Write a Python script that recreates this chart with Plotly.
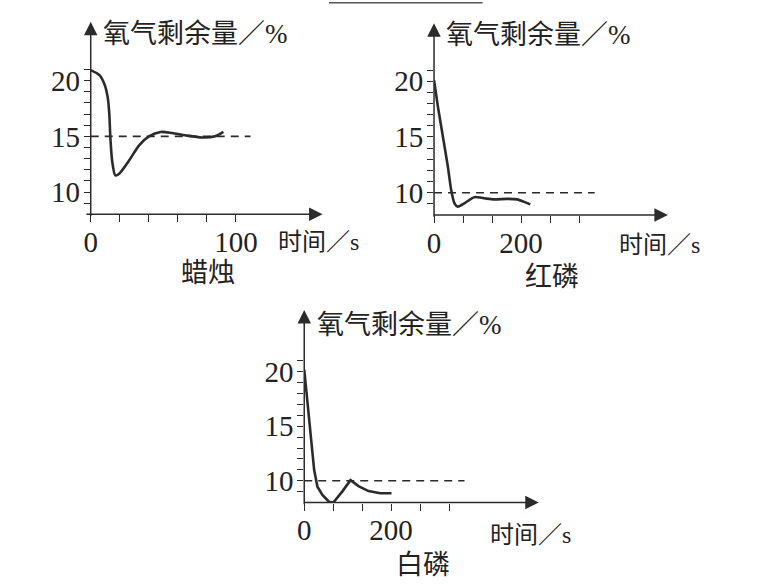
import plotly.graph_objects as go

# ~~~ data ~~~
candle_t = [0, 6, 9.4, 11.7, 12.8, 13.5, 14.7, 16.9, 19.6, 26.5, 33.3, 40.1, 48.1, 56, 65, 76.5, 85.6, 91.3]
candle_o2 = [20.95, 20.5, 19.7, 18.5, 17.0, 14.95, 12.85, 11.5, 11.65, 12.85, 14.2, 15.0, 15.4, 15.3, 15.1, 14.9, 15.0, 15.4]

red_t = [0, 9, 20.5, 31.9, 39.4, 47, 54.6, 69.8, 92.5, 115, 138, 168, 191, 206, 221]
red_o2 = [20.1, 17.7, 15.0, 12.3, 10.25, 9.05, 8.75, 9.05, 9.6, 9.5, 9.4, 9.45, 9.4, 9.2, 8.95]

white_t = [0, 5.3, 11.4, 17.5, 22.8, 30.4, 41.8, 57, 67, 87.4, 106.5, 125, 148, 175, 201]
white_o2 = [20.2, 18.0, 15.6, 13.1, 11.0, 9.45, 8.7, 8.07, 8.0, 9.0, 10.05, 9.5, 9.05, 8.85, 8.85]

names = ["蜡烛", "红磷", "白磷"]
ref_levels = [15, 10, 10]
ref_ends = [110, 369, 369]

x_ticks = [[0, 20, 40, 60, 80, 100], [0, 200 / 3, 400 / 3, 200, 800 / 3, 1000 / 3], [0, 200 / 3, 400 / 3, 200, 800 / 3, 1000 / 3]]
x_text = [["0", "", "", "", "", "100"], ["0", "", "", "200", "", ""], ["0", "", "", "200", "", ""]]
y_ticks = list(range(9, 22))
y_text = ["10" if v == 10 else "15" if v == 15 else "20" if v == 20 else "" for v in y_ticks]

W, H = 760, 588
INK = "#2b2b2b"
SERIF = "Liberation Serif, Noto Sans CJK SC, serif"


def fx(px):
    return px / W


def fy(py):
    return 1 - py / H


# pixel frames of each panel: y-axis x, arrow tip x, x-axis y, arrow tip y, x range end, y range end
panels = [
    dict(left=84.5, right=318.5, bottom=214.3, top=21.7, xmax=159.6, ymax=25.3),
    dict(left=431, right=667, bottom=215, top=23.3, xmax=537, ymax=25.2),
    dict(left=300, right=536.7, bottom=502.5, top=310, xmax=540, ymax=25.66),
]
curves = [(candle_t, candle_o2, "spline"), (red_t, red_o2, "spline"), (white_t, white_o2, "linear")]

fig = go.Figure()
annotations = []

for i, p in enumerate(panels):
    n = "" if i == 0 else str(i + 1)
    xa, ya = "x" + n, "y" + n
    t, o2, shape = curves[i]

    # dashed reference level
    fig.add_trace(go.Scatter(
        x=[0, ref_ends[i]], y=[ref_levels[i], ref_levels[i]],
        xaxis=xa, yaxis=ya, mode="lines",
        line=dict(color=INK, width=1.6, dash="8px,6px"),
        showlegend=False, hoverinfo="skip"))
    # the measured curve
    fig.add_trace(go.Scatter(
        x=t, y=o2, xaxis=xa, yaxis=ya, mode="lines",
        line=dict(color=INK, width=2.6, shape=shape, smoothing=0.7),
        showlegend=False, hoverinfo="skip"))

    common = dict(showgrid=False, zeroline=False, showline=False, ticks="outside",
                  tickcolor=INK, tickwidth=1.4, tickfont=dict(family=SERIF, size=29, color="#222"))
    fig.update_layout(**{
        "xaxis" + n: dict(domain=[fx(p["left"]), fx(p["right"])], range=[0, p["xmax"]],
                          anchor=ya, tickvals=x_ticks[i], ticktext=x_text[i], ticklen=7,
                          ticklabelstandoff=-5, **common),
        "yaxis" + n: dict(domain=[fy(p["bottom"]), fy(p["top"])], range=[8, p["ymax"]],
                          anchor=xa, tickvals=y_ticks, ticktext=y_text, ticklen=6,
                          ticklabelstandoff=-2, **common),
    })

    # axes with arrow heads
    annotations.append(dict(x=p["xmax"], y=8, xref=xa, yref=ya, ax=-4, ay=8, axref=xa, ayref=ya,
                            text="", showarrow=True, arrowhead=2, arrowsize=1.8, arrowwidth=1.5,
                            arrowcolor=INK, standoff=0))
    annotations.append(dict(x=0, y=p["ymax"], xref=xa, yref=ya, ax=0, ay=7.7, axref=xa, ayref=ya,
                            text="", showarrow=True, arrowhead=2, arrowsize=1.8, arrowwidth=1.5,
                            arrowcolor=INK, standoff=0))

# text placed by pixel position
labels = [
    ("氧气剩余量／%", 95, 34, "left", 27),
    ("时间／s", 271, 242, "left", 24),
    ("蜡烛", 203, 273, "center", 27),
    ("氧气剩余量／%", 441, 35, "left", 27),
    ("时间／s", 616, 245, "left", 24),
    ("红磷", 550, 277, "center", 27),
    ("氧气剩余量／%", 311, 325, "left", 27),
    ("时间／s", 485, 535, "left", 24),
    ("白磷", 420, 565, "center", 27),
]
for txt, px, py, anc, size in labels:
    annotations.append(dict(x=fx(px), y=fy(py), xref="paper", yref="paper", text=txt,
                            showarrow=False, xanchor=anc, yanchor="middle",
                            font=dict(family=SERIF, size=size, color="#222")))

fig.update_layout(
    width=W, height=H,
    margin=dict(l=0, r=0, t=0, b=0),
    paper_bgcolor="white", plot_bgcolor="white",
    annotations=annotations,
    shapes=[dict(type="line", xref="paper", yref="paper", x0=fx(325), x1=fx(480),
                 y0=fy(2.7), y1=fy(2.7), line=dict(color="#555", width=1.5))],
)

fig.write_html("out.html", config={"displayModeBar": False},
               post_script="document.body.style.margin='0';")
